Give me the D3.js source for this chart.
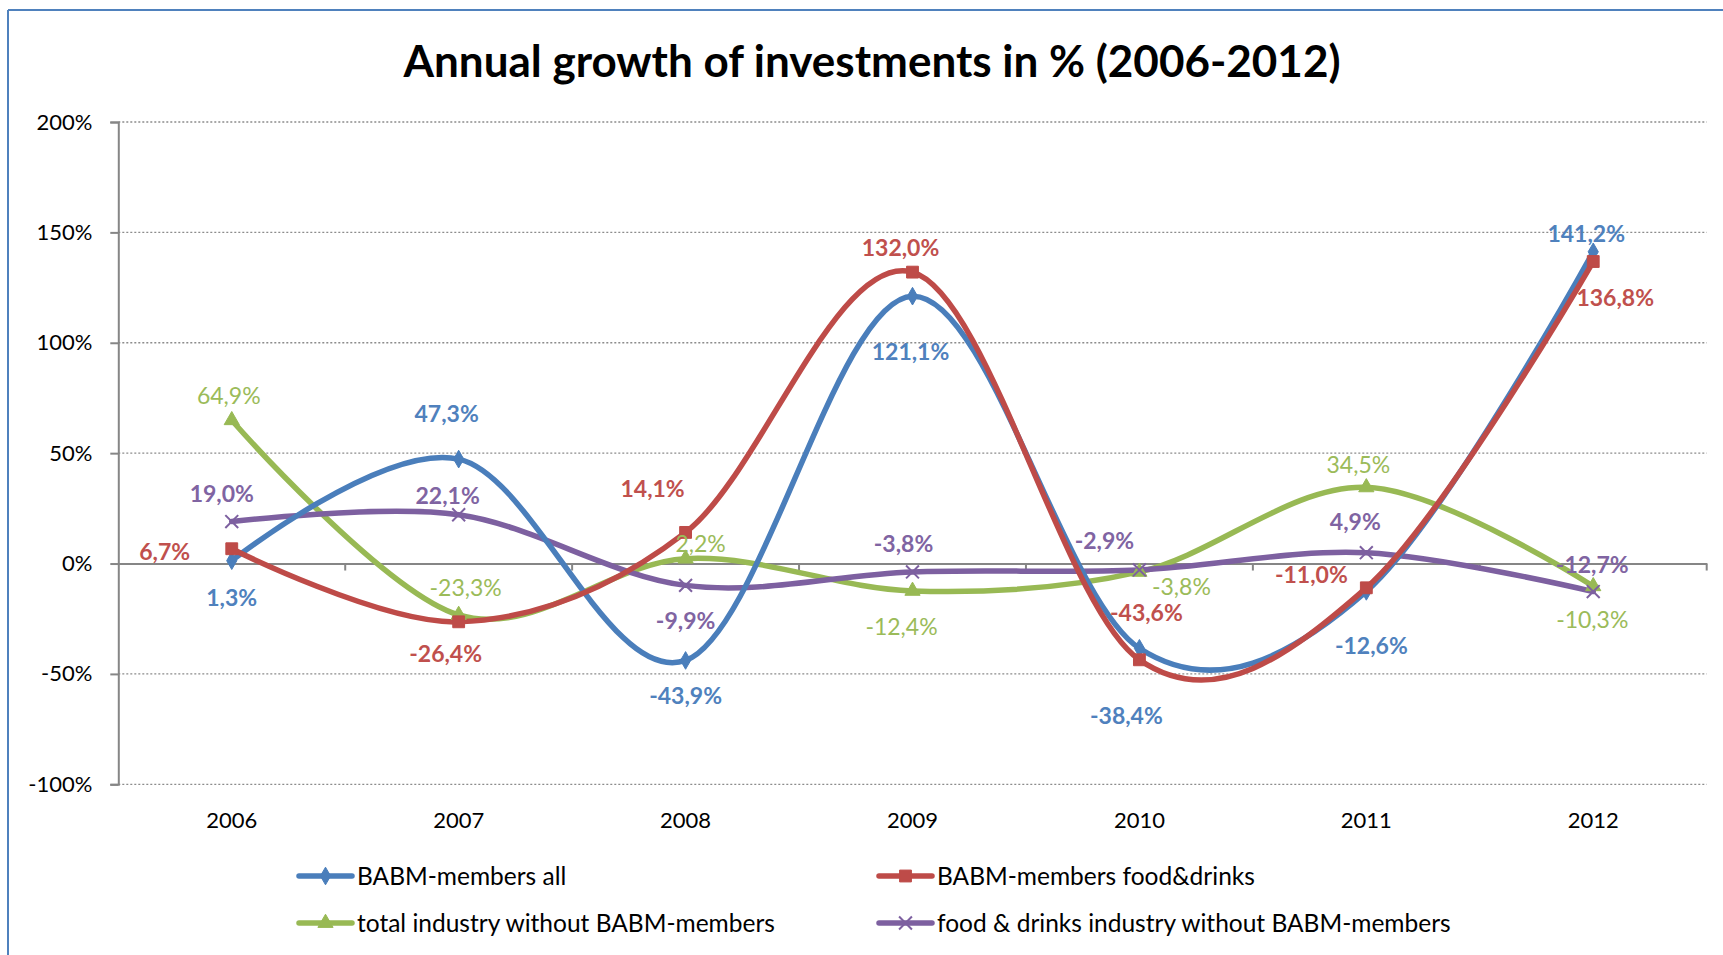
<!DOCTYPE html>
<html><head><meta charset="utf-8">
<script src="https://cdn.jsdelivr.net/npm/d3@7"></script>
<style>html,body{margin:0;padding:0;background:#fff;} svg{display:block;font-family:Lato,"Open Sans",sans-serif;}</style>
</head><body>
<svg id="chart" width="1723" height="955"></svg>
<script>
const title = "Annual growth of investments in % (2006-2012)";
const years = ["2006","2007","2008","2009","2010","2011","2012"];
const yTicks = [-100,-50,0,50,100,150,200];
const seriesNames = ["BABM-members all","BABM-members food&drinks","total industry without BABM-members","food & drinks industry without BABM-members"];
const babmAll = [1.3, 47.3, -43.9, 121.1, -38.4, -12.6, 141.2];
const babmFood = [6.7, -26.4, 14.1, 132.0, -43.6, -11.0, 136.8];
const totalIndustry = [64.9, -23.3, 2.2, -12.4, -3.8, 34.5, -10.3];
const foodIndustry = [19.0, 22.1, -9.9, -3.8, -2.9, 4.9, -12.7];

// label offsets (styling) relative to each point: [dx, dy]
const offAll = [[0,37],[-12,-45],[0,36],[-2,56],[-13,68],[5,55],[-7,-18]];
const offFood = [[-67,3],[-13,32],[-33,-43],[-12,-24],[7,-47],[-55,-13],[22,36]];
const offTotal = [[-3,-24],[7,-27],[15,-15],[-11,36],[42,15],[-8,-22],[-1,34]];
const offFoodInd = [[-10,-28],[-11,-19],[0,36],[-9,-28],[-35,-29],[-11,-31],[-1,-27]];

const series = [
  {name: seriesNames[0], values: babmAll, color: "#4A7EBB", labelColor:"#4F81BD", bold:true, marker:"diamond", off: offAll},
  {name: seriesNames[1], values: babmFood, color: "#BE4B48", labelColor:"#C0504D", bold:true, marker:"square", off: offFood},
  {name: seriesNames[2], values: totalIndustry, color: "#98B954", labelColor:"#9BBB59", bold:false, marker:"triangle", off: offTotal},
  {name: seriesNames[3], values: foodIndustry, color: "#7D60A0", labelColor:"#8064A2", bold:true, marker:"x", off: offFoodInd}
];
const drawOrder = [2,3,0,1];

const svg = d3.select("#chart");
const L = 118.3, R = 1706.7, T = 122, B = 784.3;

// frame
svg.append("line").attr("x1",8).attr("y1",10).attr("x2",1723).attr("y2",10).attr("stroke","#4F81BD").attr("stroke-width",2);
svg.append("line").attr("x1",8).attr("y1",10).attr("x2",8).attr("y2",955).attr("stroke","#4F81BD").attr("stroke-width",2);

svg.append("text").attr("x",872).attr("y",77).attr("text-anchor","middle")
  .attr("font-size",44).attr("font-weight","bold").attr("fill","#000").text(title);

const x = d3.scaleBand().domain(years).range([L,R]).padding(0);
const y = d3.scaleLinear().domain([-100,200]).range([B,T]);
const px = (i) => x(years[i]) + x.bandwidth()/2;

// gridlines
svg.append("g").selectAll("line").data(yTicks.filter(d=>d!==0)).join("line")
  .attr("x1",L).attr("x2",R).attr("y1",d=>y(d)).attr("y2",d=>y(d))
  .attr("stroke","#8c8c8c").attr("stroke-width",1.3).attr("stroke-dasharray","2,2");

// y axis
const yAxis = d3.axisLeft(y).tickValues(yTicks).tickSize(8).tickPadding(18).tickFormat(d=>d+"%");
const gy = svg.append("g").attr("transform",`translate(${L},0)`).call(yAxis);
gy.select(".domain").attr("stroke","#868686").attr("stroke-width",2);
gy.selectAll(".tick line").attr("stroke","#868686").attr("stroke-width",2);
gy.selectAll("text").attr("font-size",22).attr("fill","#000").attr("font-family","Lato");

// x axis at 0
const xAxis = d3.axisBottom(x).tickSize(0).tickFormat("");
const gx = svg.append("g").attr("transform",`translate(0,${y(0)})`).call(xAxis);
gx.select(".domain").attr("stroke","#868686").attr("stroke-width",2);
const bounds = years.map(yy=>x(yy)).concat([R]).slice(1);
svg.append("g").selectAll("line").data(bounds).join("line")
  .attr("x1",d=>d).attr("x2",d=>d).attr("y1",y(0)).attr("y2",y(0)+7)
  .attr("stroke","#868686").attr("stroke-width",2);
svg.append("g").selectAll("text").data(years).join("text")
  .attr("x",d=>x(d)+x.bandwidth()/2).attr("y",828).attr("text-anchor","middle")
  .attr("font-size",22).attr("fill","#000").text(d=>d);

function markerPath(type, size){
  const s = size;
  if(type==="diamond") return d3.symbol(d3.symbolDiamond, s*s*0.9)();
  if(type==="square") return d3.symbol(d3.symbolSquare, s*s*1.4)();
  if(type==="triangle") return d3.symbol(d3.symbolTriangle, s*s*1.0)();
  return d3.symbol(d3.symbolTimes, s*s*1.1)();
}

const line = d3.line().x((d,i)=>px(i)).y(d=>y(d)).curve(d3.curveCardinal.tension(0));

drawOrder.forEach(k=>{
  const s = series[k];
  svg.append("path").datum(s.values).attr("d",line).attr("fill","none")
    .attr("stroke",s.color).attr("stroke-width",5.5).attr("stroke-linecap","round");
});
drawOrder.forEach(k=>{
  const s = series[k];
  const g = svg.append("g");
  g.selectAll("path").data(s.values).join("path")
    .attr("transform",(d,i)=>`translate(${px(i)},${y(d)})`)
    .attr("d",markerPath(s.marker,10))
    .attr("fill", s.marker==="x" ? "none" : s.color)
    .attr("stroke", s.color).attr("stroke-width", s.marker==="x"?2:1);
});
drawOrder.forEach(k=>{
  const s = series[k];
  svg.append("g").selectAll("text").data(s.values).join("text")
    .attr("x",(d,i)=>px(i)+s.off[i][0]).attr("y",(d,i)=>y(d)+s.off[i][1])
    .attr("dy","0.35em").attr("text-anchor","middle")
    .attr("font-size",23).attr("font-weight",s.bold?"bold":"normal")
    .attr("fill",s.labelColor)
    .text(d=>d3.format(".1f")(d).replace(".",",").replace("\u2212","-")+"%");
});

// legend
const legPos = [[299,876],[879,876],[299,923],[879,923]];
series.forEach((s,k)=>{
  const [lx,ly] = legPos[k];
  const g = svg.append("g").attr("transform",`translate(${lx},${ly})`);
  g.append("line").attr("x1",0).attr("x2",53).attr("y1",0).attr("y2",0)
    .attr("stroke",s.color).attr("stroke-width",5.5).attr("stroke-linecap","round");
  g.append("path").attr("transform","translate(26.5,0)").attr("d",markerPath(s.marker,10))
    .attr("fill", s.marker==="x" ? "none" : s.color).attr("stroke",s.color).attr("stroke-width",s.marker==="x"?2:1);
  g.append("text").attr("x",58).attr("y",0).attr("dy","0.35em").attr("font-size",24.5).attr("fill","#000").text(s.name);
});
</script>
</body></html>
